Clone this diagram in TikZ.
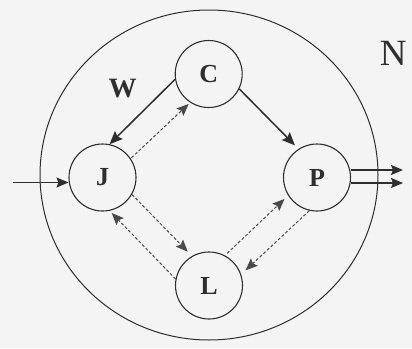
\documentclass[tikz,border=0pt]{standalone}
\usepackage{fontspec}
\setmainfont{Liberation Serif}
\usetikzlibrary{arrows.meta,shapes.geometric}
\definecolor{ink}{HTML}{2E2E2E}
\definecolor{dashink}{HTML}{4A4A4A}
\definecolor{paper}{HTML}{F4F4F4}
\begin{document}
\begin{tikzpicture}[x=1pt,y=-1pt,
  state/.style={circle,draw=ink,line width=1.1pt,minimum size=67pt,inner sep=0pt,
    font=\bfseries\fontsize{26}{26}\selectfont,text=ink},
  net/.style={ellipse,draw=ink,line width=1pt,minimum width=338pt,minimum height=330pt,inner sep=0pt},
  solidarrow/.style={draw=ink,line width=1.5pt,-{Stealth[length=13pt,width=11pt,inset=2pt]}},
  dasharrow/.style={draw=dashink,line width=1pt,dash pattern=on 3pt off 2pt,
    -{Stealth[length=12pt,width=10pt,inset=2pt]}},
  ioarrow/.style={draw=ink,line width=1.2pt,-{Stealth[length=12pt,width=10pt,inset=2pt]}},
  label/.style={text=ink,inner sep=0pt}
]
\fill[paper] (0,0) rectangle (412,348);
\useasboundingbox (0,0) rectangle (412,348);

\node[net] (netw) at (209,175) {};

\node[state] (C) at (208.7,74) {C};
\node[state] (J) at (102.5,177.5) {J};
\node[state] (P) at (317,177.5) {P};
\node[state] (L) at (209,285.5) {L};

\node[label,font=\bfseries\fontsize{28}{28}\selectfont] (W) at (122.5,88.3) {W};
\node[label,font=\fontsize{37}{37}\selectfont] (N) at (393.3,53.3) {N};

\draw[solidarrow] (C.189) -- (J.78);
\draw[dasharrow, shorten <=1pt, shorten >=2pt] (J.34) -- (C.237);
\draw[solidarrow, shorten >=5pt] (C.334) -- (P.123);
\draw[dasharrow, shorten >=6pt] (J.330) -- (L.120);
\draw[dasharrow, shorten >=3pt] (L.169) -- (J.282);
\draw[dasharrow, shorten <=3pt, shorten >=5pt] (L.62) -- (P.212);
\draw[dasharrow, shorten >=6pt] (P.257) -- (L.19);

\coordinate (in) at (13,182.5);
\draw[ioarrow, line width=1pt] (in) -- (in -| J.west);
\coordinate (o1) at (403,170);
\coordinate (o2) at (403,183);
\draw[ioarrow] (o1 -| P.east) -- (o1);
\draw[ioarrow] (o2 -| P.east) -- (o2);
\end{tikzpicture}
\end{document}
